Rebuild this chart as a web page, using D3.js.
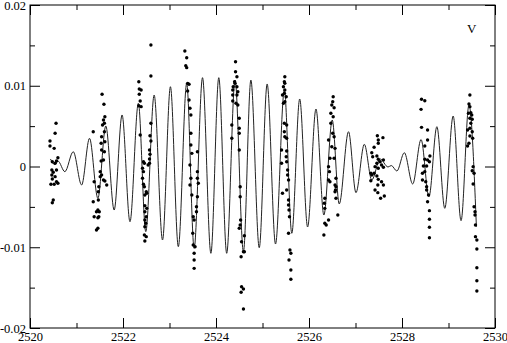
<!DOCTYPE html>
<html><head><meta charset="utf-8">
<script src="https://cdn.jsdelivr.net/npm/d3@7"></script>
<style>
html,body{margin:0;padding:0;background:#fff;}
svg{display:block;}
svg text{font-family:"Liberation Serif","DejaVu Serif","Times New Roman",serif !important;}
</style></head>
<body>
<script>
// Tick values
const xMajor = [2520, 2522, 2524, 2526, 2528, 2530];
const xMinor = [2521, 2523, 2525, 2527, 2529];
const yMajor = [-0.02, -0.01, 0, 0.01, 0.02];
const yMinor = [-0.015, -0.005, 0.005, 0.015];
const bandLabel = "V";

// Fitted curve (extrema)
const curveT = [2520.44,2520.53,2520.60,2520.75,2520.93,2521.11,2521.28,2521.46,2521.63,2521.81,2521.98,2522.15,2522.33,2522.49,2522.67,2522.85,2523.02,2523.19,2523.37,2523.53,2523.71,2523.89,2524.06,2524.23,2524.41,2524.59,2524.75,2524.93,2525.10,2525.28,2525.47,2525.63,2525.80,2525.97,2526.15,2526.32,2526.50,2526.65,2526.85,2527.01,2527.19,2527.35,2527.53,2527.70,2527.77,2527.89,2528.05,2528.23,2528.41,2528.58,2528.75,2528.92,2529.10,2529.27,2529.44,2529.60];
const curveV = [0.00093,0.00025,0.00068,-0.00064,0.00183,-0.00229,0.00349,-0.00394,0.00502,-0.00539,0.00638,-0.00684,0.00783,-0.00807,0.00885,-0.00910,0.00988,-0.00993,0.01030,-0.01013,0.01100,-0.01075,0.01100,-0.01075,0.01071,-0.01055,0.01071,-0.01006,0.01022,-0.00960,0.00947,-0.00827,0.00836,-0.00749,0.00712,-0.00601,0.00576,-0.00464,0.00431,-0.00324,0.00275,-0.00167,0.00093,-0.00006,0.00012,-0.00056,0.00171,-0.00217,0.00334,-0.00374,0.00493,-0.00518,0.00625,-0.00671,0.00762,-0.00746];

// Observations
const dotT = [
2520.56,2520.54,2520.43,2520.43,2520.52,2520.60,2520.57,2520.48,2520.54,2520.47,2520.57,2520.50,2520.47,2520.54,2520.48,2520.57,2520.45,2520.52,2520.60,2520.50,2520.48,
2521.55,2521.59,2521.61,2521.58,2521.60,2521.56,2521.60,2521.54,2521.61,2521.53,2521.36,2521.54,2521.60,2521.58,2521.53,2521.51,2521.54,2521.51,2521.58,2521.61,2521.65,2521.38,2521.48,2521.47,2521.36,2521.47,2521.46,2521.43,2521.49,2521.38,2521.46,2521.48,2521.46,2521.43,
2522.60,2522.60,2522.34,2522.35,2522.39,2522.35,2522.37,2522.34,2522.39,2522.60,2522.37,2522.58,2522.60,2522.57,2522.58,2522.57,2522.57,2522.54,2522.44,2522.46,2522.42,2522.44,2522.42,2522.44,2522.46,2522.50,2522.51,2522.47,2522.47,2522.51,2522.47,2522.50,2522.47,2522.49,2522.47,2522.46,2522.50,2522.47,
2523.33,2523.37,2523.35,2523.37,2523.39,2523.42,2523.39,2523.42,2523.44,2523.46,2523.46,2523.46,2523.48,2523.44,2523.46,2523.44,2523.48,2523.51,2523.53,2523.50,2523.51,2523.55,2523.53,2523.53,2523.53,2523.60,2523.60,2523.60,2523.62,2523.60,2523.58,2523.58,
2524.42,2524.42,2524.45,2524.41,2524.37,2524.45,2524.47,2524.36,2524.45,2524.36,2524.43,2524.47,2524.36,2524.40,2524.50,2524.34,2524.50,2524.50,2524.34,2524.50,2524.52,2524.52,2524.53,2524.52,2524.50,2524.61,2524.55,2524.59,2524.61,2524.54,2524.55,2524.59,2524.54,2524.59,
2525.48,2525.47,2525.48,2525.45,2525.48,2525.47,2525.43,2525.51,2525.48,2525.45,2525.47,2525.52,2525.47,2525.48,2525.52,2525.41,2525.52,2525.51,2525.52,2525.41,2525.54,2525.54,2525.56,2525.52,2525.43,2525.56,2525.56,2525.57,2525.58,2525.56,2525.59,2525.61,2525.57,2525.61,2525.61,
2526.52,2526.51,2526.49,2526.54,2526.47,2526.52,2526.47,2526.51,2526.54,2526.42,2526.49,2526.56,2526.45,2526.54,2526.42,2526.44,2526.42,2526.45,2526.58,2526.56,2526.58,2526.57,2526.56,2526.58,2526.34,2526.33,2526.34,2526.62,2526.42,2526.34,2526.37,2526.32,
2527.47,2527.59,2527.49,2527.40,2527.35,2527.37,2527.46,2527.49,2527.46,2527.53,2527.56,2527.42,2527.49,2527.60,2527.40,2527.35,2527.46,2527.33,2527.49,2527.56,2527.48,2527.60,2527.42,2527.48,2527.62,2527.54,2527.33,2527.49,2527.60,
2528.42,2528.49,2528.41,2528.42,2528.55,2528.55,2528.49,2528.60,2528.49,2528.55,2528.59,2528.46,2528.53,2528.49,2528.44,2528.51,2528.53,2528.53,2528.57,2528.55,2528.59,2528.59,2528.59,2528.59,2528.44,
2529.46,2529.44,2529.46,2529.43,2529.48,2529.50,2529.46,2529.51,2529.48,2529.41,2529.46,2529.51,2529.46,2529.52,2529.44,2529.41,2529.53,2529.51,2529.55,2529.53,2529.55,2529.57,2529.57,2529.58,2529.58,2529.61,2529.61,2529.61,2529.61,2529.61
];
const dotV = [
0.00535,0.00411,0.00316,0.00254,0.00225,0.00109,0.00068,0.00059,0.00040,-0.00043,-0.00043,-0.00072,-0.00105,-0.00126,-0.00155,-0.00188,-0.00220,-0.00220,-0.00208,-0.00415,-0.00448,
0.00894,0.00770,0.00617,0.00576,0.00535,0.00514,0.00431,0.00369,0.00307,0.00287,0.00431,0.00204,0.00183,0.00080,0.00068,-0.00064,-0.00105,-0.00126,-0.00167,-0.00180,-0.00229,-0.00188,-0.00250,-0.00312,-0.00436,-0.00415,-0.00539,-0.00560,-0.00560,-0.00622,-0.00634,-0.00622,-0.00765,-0.00786,
0.01505,0.01121,0.01050,0.00960,0.00947,0.00894,0.00811,0.00753,0.00741,0.00535,0.00390,0.00381,0.00316,0.00204,0.00151,0.00093,0.00040,0.00019,0.00059,0.00040,-0.00022,-0.00064,-0.00146,-0.00220,-0.00250,-0.00312,-0.00332,-0.00353,-0.00485,-0.00518,-0.00560,-0.00622,-0.00663,-0.00703,-0.00746,-0.00848,-0.00869,-0.00923,
0.01430,0.01347,0.01248,0.01224,0.01030,0.01018,0.00935,0.00824,0.00721,0.00638,0.00411,0.00266,0.00163,0.00019,-0.00146,-0.00229,-0.00353,-0.00622,-0.00663,-0.00827,-0.00972,-0.00993,-0.01075,-0.01158,-0.01261,0.00183,-0.00064,-0.00146,-0.00208,-0.00374,-0.00498,-0.00560,
0.01298,0.01174,0.01112,0.01030,0.00988,0.00988,0.00926,0.00885,0.00885,0.00811,0.00783,0.00762,0.00947,0.01050,0.00597,0.00514,0.00473,0.00411,0.00349,0.00204,-0.00250,-0.00374,-0.00663,-0.00724,-0.00765,-0.00857,-0.00931,-0.01055,-0.01055,-0.01117,-0.01489,-0.01517,-0.01558,-0.01765,
0.01112,0.01050,0.01030,0.00988,0.00947,0.00906,0.00885,0.00864,0.00802,0.00783,0.00535,0.00514,0.00431,0.00369,0.00349,0.00204,0.00192,0.00121,0.00059,0.00040,-0.00043,-0.00105,-0.00167,-0.00291,-0.00332,-0.00415,-0.00477,-0.00539,-0.00622,-0.00827,-0.01034,-0.01075,-0.01158,-0.01282,-0.01397,
0.00864,0.00802,0.00762,0.00728,0.00659,0.00617,0.00535,0.00411,0.00369,0.00328,0.00245,0.00225,0.00102,0.00102,-0.00002,-0.00064,-0.00167,-0.00188,-0.00146,-0.00229,-0.00250,-0.00291,-0.00312,-0.00394,-0.00394,-0.00456,-0.00518,-0.00601,-0.00663,-0.00703,-0.00724,-0.00848,
0.00381,0.00357,0.00328,0.00238,0.00171,0.00121,0.00130,0.00089,0.00040,0.00059,0.00019,-0.00002,-0.00022,-0.00010,-0.00084,-0.00105,-0.00118,-0.00176,-0.00159,-0.00188,-0.00229,-0.00229,-0.00291,-0.00324,-0.00365,-0.00394,-0.00084,0.00287,0.00080,
0.00832,0.00815,0.00708,0.00485,0.00452,0.00328,0.00254,0.00130,0.00089,0.00080,0.00059,0.00006,0.00006,-0.00064,-0.00167,-0.00188,-0.00250,-0.00291,-0.00353,-0.00436,-0.00547,-0.00654,-0.00753,-0.00882,-0.00084,
0.00885,0.00774,0.00741,0.00659,0.00666,0.00638,0.00597,0.00585,0.00535,0.00452,0.00473,0.00431,0.00378,0.00349,0.00287,0.00254,-0.00002,-0.00052,-0.00084,-0.00217,-0.00498,-0.00560,-0.00601,-0.00724,-0.00869,-0.00910,-0.01022,-0.01253,-0.01414,-0.01542
];

const W = 507, H = 343;
const serif = "Liberation Serif, DejaVu Serif, Times New Roman, serif";
const svg = d3.select("body").append("svg").attr("width", W).attr("height", H)
  .attr("font-family", serif);

const x = d3.scaleLinear().domain([2520, 2530]).range([30, 495]);
const y = d3.scaleLinear().domain([-0.02, 0.02]).range([328, 5]);

const fmtY = d => d === 0 ? "0" : d.toFixed(2);
const fs = 12.5;

function styleAxis(g) {
  g.attr("font-family", serif).attr("font-size", fs);
  g.select(".domain").remove();
  g.selectAll(".tick line").attr("stroke", "#000").attr("stroke-width", 1);
  g.selectAll("text").attr("fill", "#000").attr("font-family", serif).attr("font-size", fs);
}

// Bottom
svg.append("g").attr("transform", "translate(0,328)")
  .call(d3.axisBottom(x).tickValues(xMajor).tickSize(-10).tickPadding(4).tickFormat(d3.format("d")))
  .call(styleAxis);
svg.append("g").attr("transform", "translate(0,328)")
  .call(d3.axisBottom(x).tickValues(xMinor).tickSize(-5).tickFormat(""))
  .call(styleAxis);
// Top
svg.append("g").attr("transform", "translate(0,5)")
  .call(d3.axisTop(x).tickValues(xMajor).tickSize(-10).tickFormat(""))
  .call(styleAxis);
svg.append("g").attr("transform", "translate(0,5)")
  .call(d3.axisTop(x).tickValues(xMinor).tickSize(-5).tickFormat(""))
  .call(styleAxis);
// Left
svg.append("g").attr("transform", "translate(30,0)")
  .call(d3.axisLeft(y).tickValues(yMajor).tickSize(-10).tickPadding(4).tickFormat(fmtY))
  .call(styleAxis);
svg.append("g").attr("transform", "translate(30,0)")
  .call(d3.axisLeft(y).tickValues(yMinor).tickSize(-5).tickFormat(""))
  .call(styleAxis);
// Right
svg.append("g").attr("transform", "translate(495,0)")
  .call(d3.axisRight(y).tickValues(yMajor).tickSize(-10).tickFormat(""))
  .call(styleAxis);
svg.append("g").attr("transform", "translate(495,0)")
  .call(d3.axisRight(y).tickValues(yMinor).tickSize(-5).tickFormat(""))
  .call(styleAxis);

// Frame
svg.append("rect").attr("x", x(2520)).attr("y", y(0.02))
  .attr("width", x(2530) - x(2520)).attr("height", y(-0.02) - y(0.02))
  .attr("fill", "none").attr("stroke", "#000").attr("stroke-width", 1);

// Curve
const n = Math.min(curveT.length, curveV.length);
const curvePts = d3.range(n).map(i => [curveT[i], curveV[i]]);
svg.append("path").datum(curvePts)
  .attr("d", d3.line().x(d => x(d[0])).y(d => y(d[1])).curve(d3.curveMonotoneX))
  .attr("fill", "none").attr("stroke", "#222").attr("stroke-width", 1);

// Dots
const m = Math.min(dotT.length, dotV.length);
svg.append("g").selectAll("circle").data(d3.range(m)).join("circle")
  .attr("cx", i => x(dotT[i])).attr("cy", i => y(dotV[i])).attr("r", 1.7).attr("fill", "#000");

// Band label
svg.append("text").attr("x", x(2529.5)).attr("y", y(0.0165))
  .attr("text-anchor", "middle").attr("font-size", 13).attr("font-family", serif)
  .attr("fill", "#000").text(bandLabel);
</script>
</body></html>
